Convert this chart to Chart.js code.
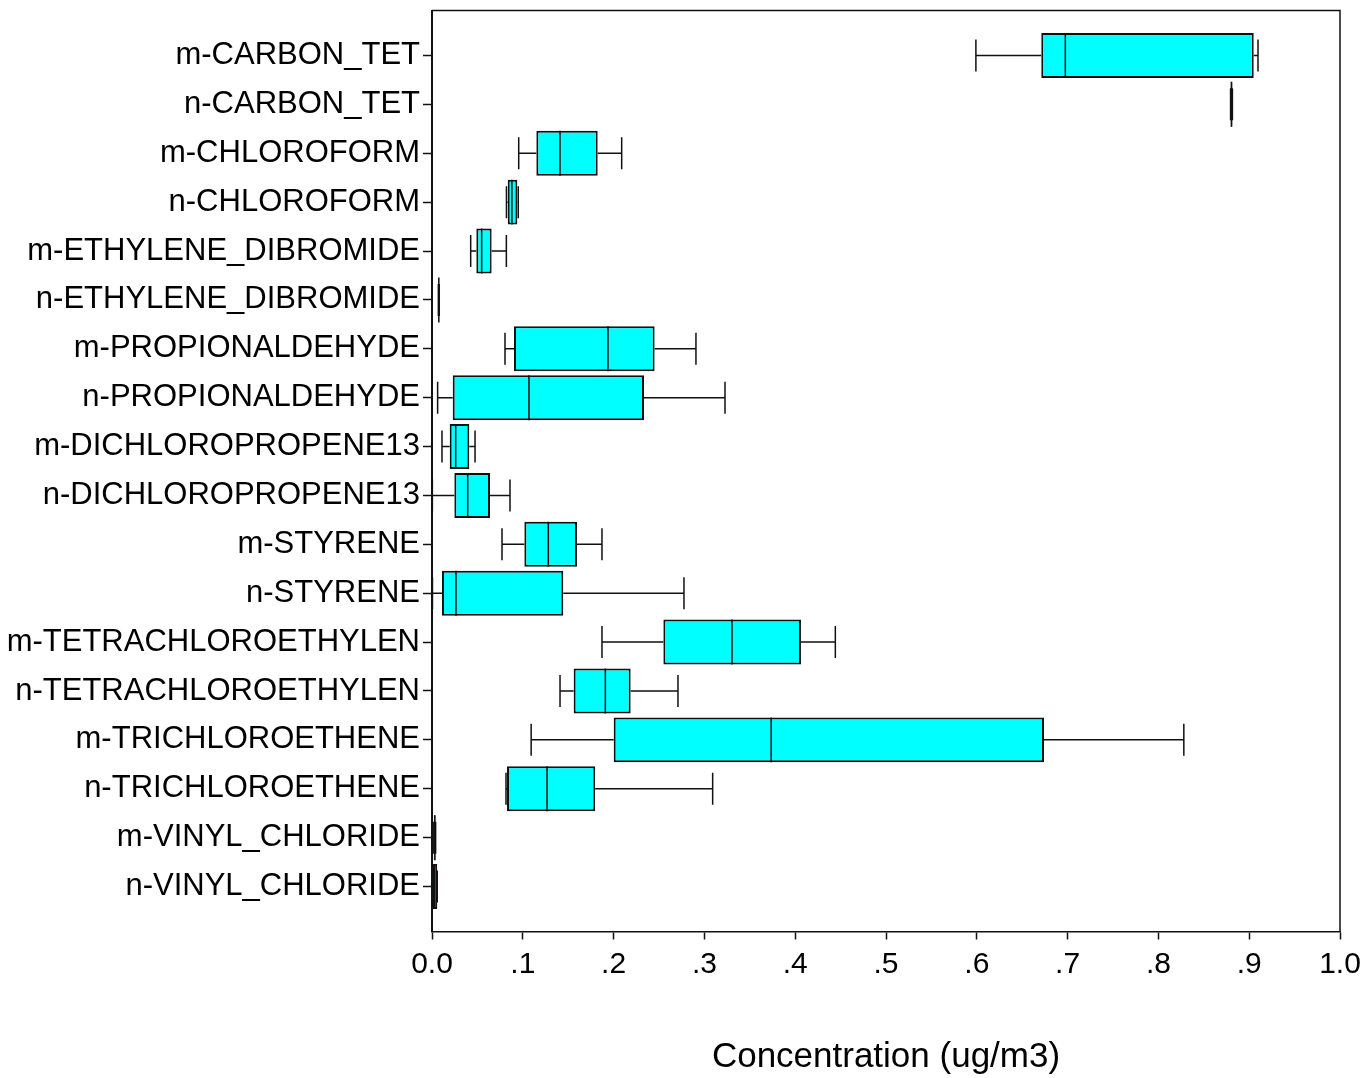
<!DOCTYPE html>
<html>
<head>
<meta charset="utf-8">
<script src="https://cdn.jsdelivr.net/npm/chart.js@4/dist/chart.umd.min.js"></script>
<style>
  html, body { margin: 0; padding: 0; background: #fff; }
  #wrap { width: 1365px; height: 1078px; }
</style>
</head>
<body>
<div id="wrap"><canvas id="c" width="1365" height="1078"></canvas></div>
<script>
const categories = [
  'm-CARBON_TET', 'n-CARBON_TET', 'm-CHLOROFORM', 'n-CHLOROFORM',
  'm-ETHYLENE_DIBROMIDE', 'n-ETHYLENE_DIBROMIDE', 'm-PROPIONALDEHYDE', 'n-PROPIONALDEHYDE',
  'm-DICHLOROPROPENE13', 'n-DICHLOROPROPENE13', 'm-STYRENE', 'n-STYRENE',
  'm-TETRACHLOROETHYLEN', 'n-TETRACHLOROETHYLEN', 'm-TRICHLOROETHENE', 'n-TRICHLOROETHENE',
  'm-VINYL_CHLORIDE', 'n-VINYL_CHLORIDE'
];
const whiskerLow  = [0.599, 0.8795, 0.0955, 0.0820, 0.0426, 0.0070, 0.0804, 0.0062, 0.0110, 0.0004, 0.0771, 0.0005, 0.1872, 0.1410, 0.1092, 0.0815, 0.0020, 0.0010];
const q1          = [0.671, 0.8795, 0.1149, 0.0834, 0.0488, 0.0070, 0.0903, 0.0228, 0.0195, 0.0246, 0.1017, 0.0110, 0.2548, 0.1560, 0.2001, 0.0826, 0.0020, 0.0008];
const median      = [0.6975, 0.8805, 0.1410, 0.0880, 0.0547, 0.0075, 0.1938, 0.1068, 0.0261, 0.0393, 0.1281, 0.0264, 0.3304, 0.1909, 0.3735, 0.1267, 0.0030, 0.0030];
const q3          = [0.905, 0.8815, 0.1825, 0.0940, 0.0657, 0.0080, 0.2452, 0.2335, 0.0411, 0.0639, 0.1597, 0.1446, 0.4064, 0.2188, 0.6740, 0.1798, 0.0040, 0.0058];
const whiskerHigh = [0.9097, 0.8815, 0.2089, 0.0950, 0.0819, 0.0080, 0.2907, 0.3227, 0.0474, 0.0859, 0.1872, 0.2775, 0.4442, 0.2709, 0.8280, 0.3091, 0.0040, 0.0058];
const xTicks = [0, 0.1, 0.2, 0.3, 0.4, 0.5, 0.6, 0.7, 0.8, 0.9, 1.0];
const xTickLabels = ['0.0', '.1', '.2', '.3', '.4', '.5', '.6', '.7', '.8', '.9', '1.0'];
const axisTitle = 'Concentration (ug/m3)';

const FONT = "'Liberation Sans', Arial, sans-serif";

const boxData = categories.map((c, i) => ({ y: i, x: [q1[i], q3[i]] }));

const boxPlugin = {
  id: 'boxExtras',
  afterDatasetsDraw(chart) {
    const ctx = chart.ctx;
    const xs = chart.scales.x, ys = chart.scales.y;
    const meta = chart.getDatasetMeta(0);
    ctx.save();
    ctx.strokeStyle = '#111';
    ctx.lineWidth = 1.5;
    for (let i = 0; i < categories.length; i++) {
      const yp = ys.getPixelForValue(i);
      const bar = meta.data[i];
      const half = bar ? bar.height / 2 : 22;
      const capHalf = 16;
      const lo = xs.getPixelForValue(whiskerLow[i]);
      const a = xs.getPixelForValue(q1[i]);
      const m = xs.getPixelForValue(median[i]);
      const b = xs.getPixelForValue(q3[i]);
      const hi = xs.getPixelForValue(whiskerHigh[i]);
      ctx.beginPath();
      ctx.moveTo(lo, yp); ctx.lineTo(a, yp);
      ctx.moveTo(b, yp); ctx.lineTo(hi, yp);
      ctx.moveTo(lo, yp - capHalf); ctx.lineTo(lo, yp + capHalf);
      ctx.moveTo(hi, yp - capHalf); ctx.lineTo(hi, yp + capHalf);
      ctx.moveTo(m, yp - half); ctx.lineTo(m, yp + half);
      ctx.stroke();
    }
    ctx.restore();
  },
  afterDraw(chart) {
    const ctx = chart.ctx;
    const a = chart.chartArea;
    ctx.save();
    ctx.strokeStyle = '#111';
    ctx.lineWidth = 1.5;
    ctx.beginPath();
    ctx.moveTo(a.left, a.top); ctx.lineTo(a.right, a.top); ctx.lineTo(a.right, a.bottom);
    ctx.stroke();
    ctx.restore();
  }
};

new Chart(document.getElementById('c'), {
  type: 'bar',
  data: {
    datasets: [{
      data: boxData,
      backgroundColor: '#00FFFF',
      borderColor: '#111',
      borderWidth: 2,
      borderSkipped: false,
      barPercentage: 0.92,
      categoryPercentage: 1.0
    }]
  },
  options: {
    indexAxis: 'y',
    responsive: false,
    devicePixelRatio: 1,
    animation: false,
    layout: { padding: { top: 10.5, right: 25, bottom: 0, left: 0 } },
    plugins: { legend: { display: false }, tooltip: { enabled: false } },
    scales: {
      y: {
        type: 'linear',
        reverse: true,
        offset: false,
        min: -0.92,
        max: 17.92,
        afterBuildTicks(scale) { scale.ticks = categories.map((c, i) => ({ value: i })); },
        afterFit(scale) { scale.width = 432; scale.paddingTop = 0; scale.paddingBottom = 0; },
        ticks: {
          autoSkip: false,
          color: '#000',
          padding: 3,
          font: { family: FONT, size: 31 },
          callback: (v) => categories[v]
        },
        grid: { offset: false, drawOnChartArea: false, tickLength: 9, color: '#111', tickWidth: 1.5 },
        border: { color: '#111', width: 2 }
      },
      x: {
        type: 'linear',
        min: 0,
        max: 1,
        afterBuildTicks(scale) { scale.ticks = xTicks.map(v => ({ value: v })); },
        afterFit(scale) { scale.height = 146.5; scale.paddingLeft = 0; scale.paddingRight = 0; },
        ticks: {
          autoSkip: false,
          maxRotation: 0,
          color: '#000',
          padding: 7,
          font: { family: FONT, size: 30 },
          callback: (v) => { const k = xTicks.findIndex(t => Math.abs(t - v) < 1e-9); return k >= 0 ? xTickLabels[k] : ''; }
        },
        grid: { drawOnChartArea: false, tickLength: 8, color: '#111', tickWidth: 1.5 },
        border: { color: '#111', width: 1.5 },
        title: {
          display: true,
          text: axisTitle,
          color: '#000',
          font: { family: FONT, size: 35 },
          padding: { top: 0, bottom: 0 }
        }
      }
    }
  },
  plugins: [boxPlugin]
});
</script>
</body>
</html>
